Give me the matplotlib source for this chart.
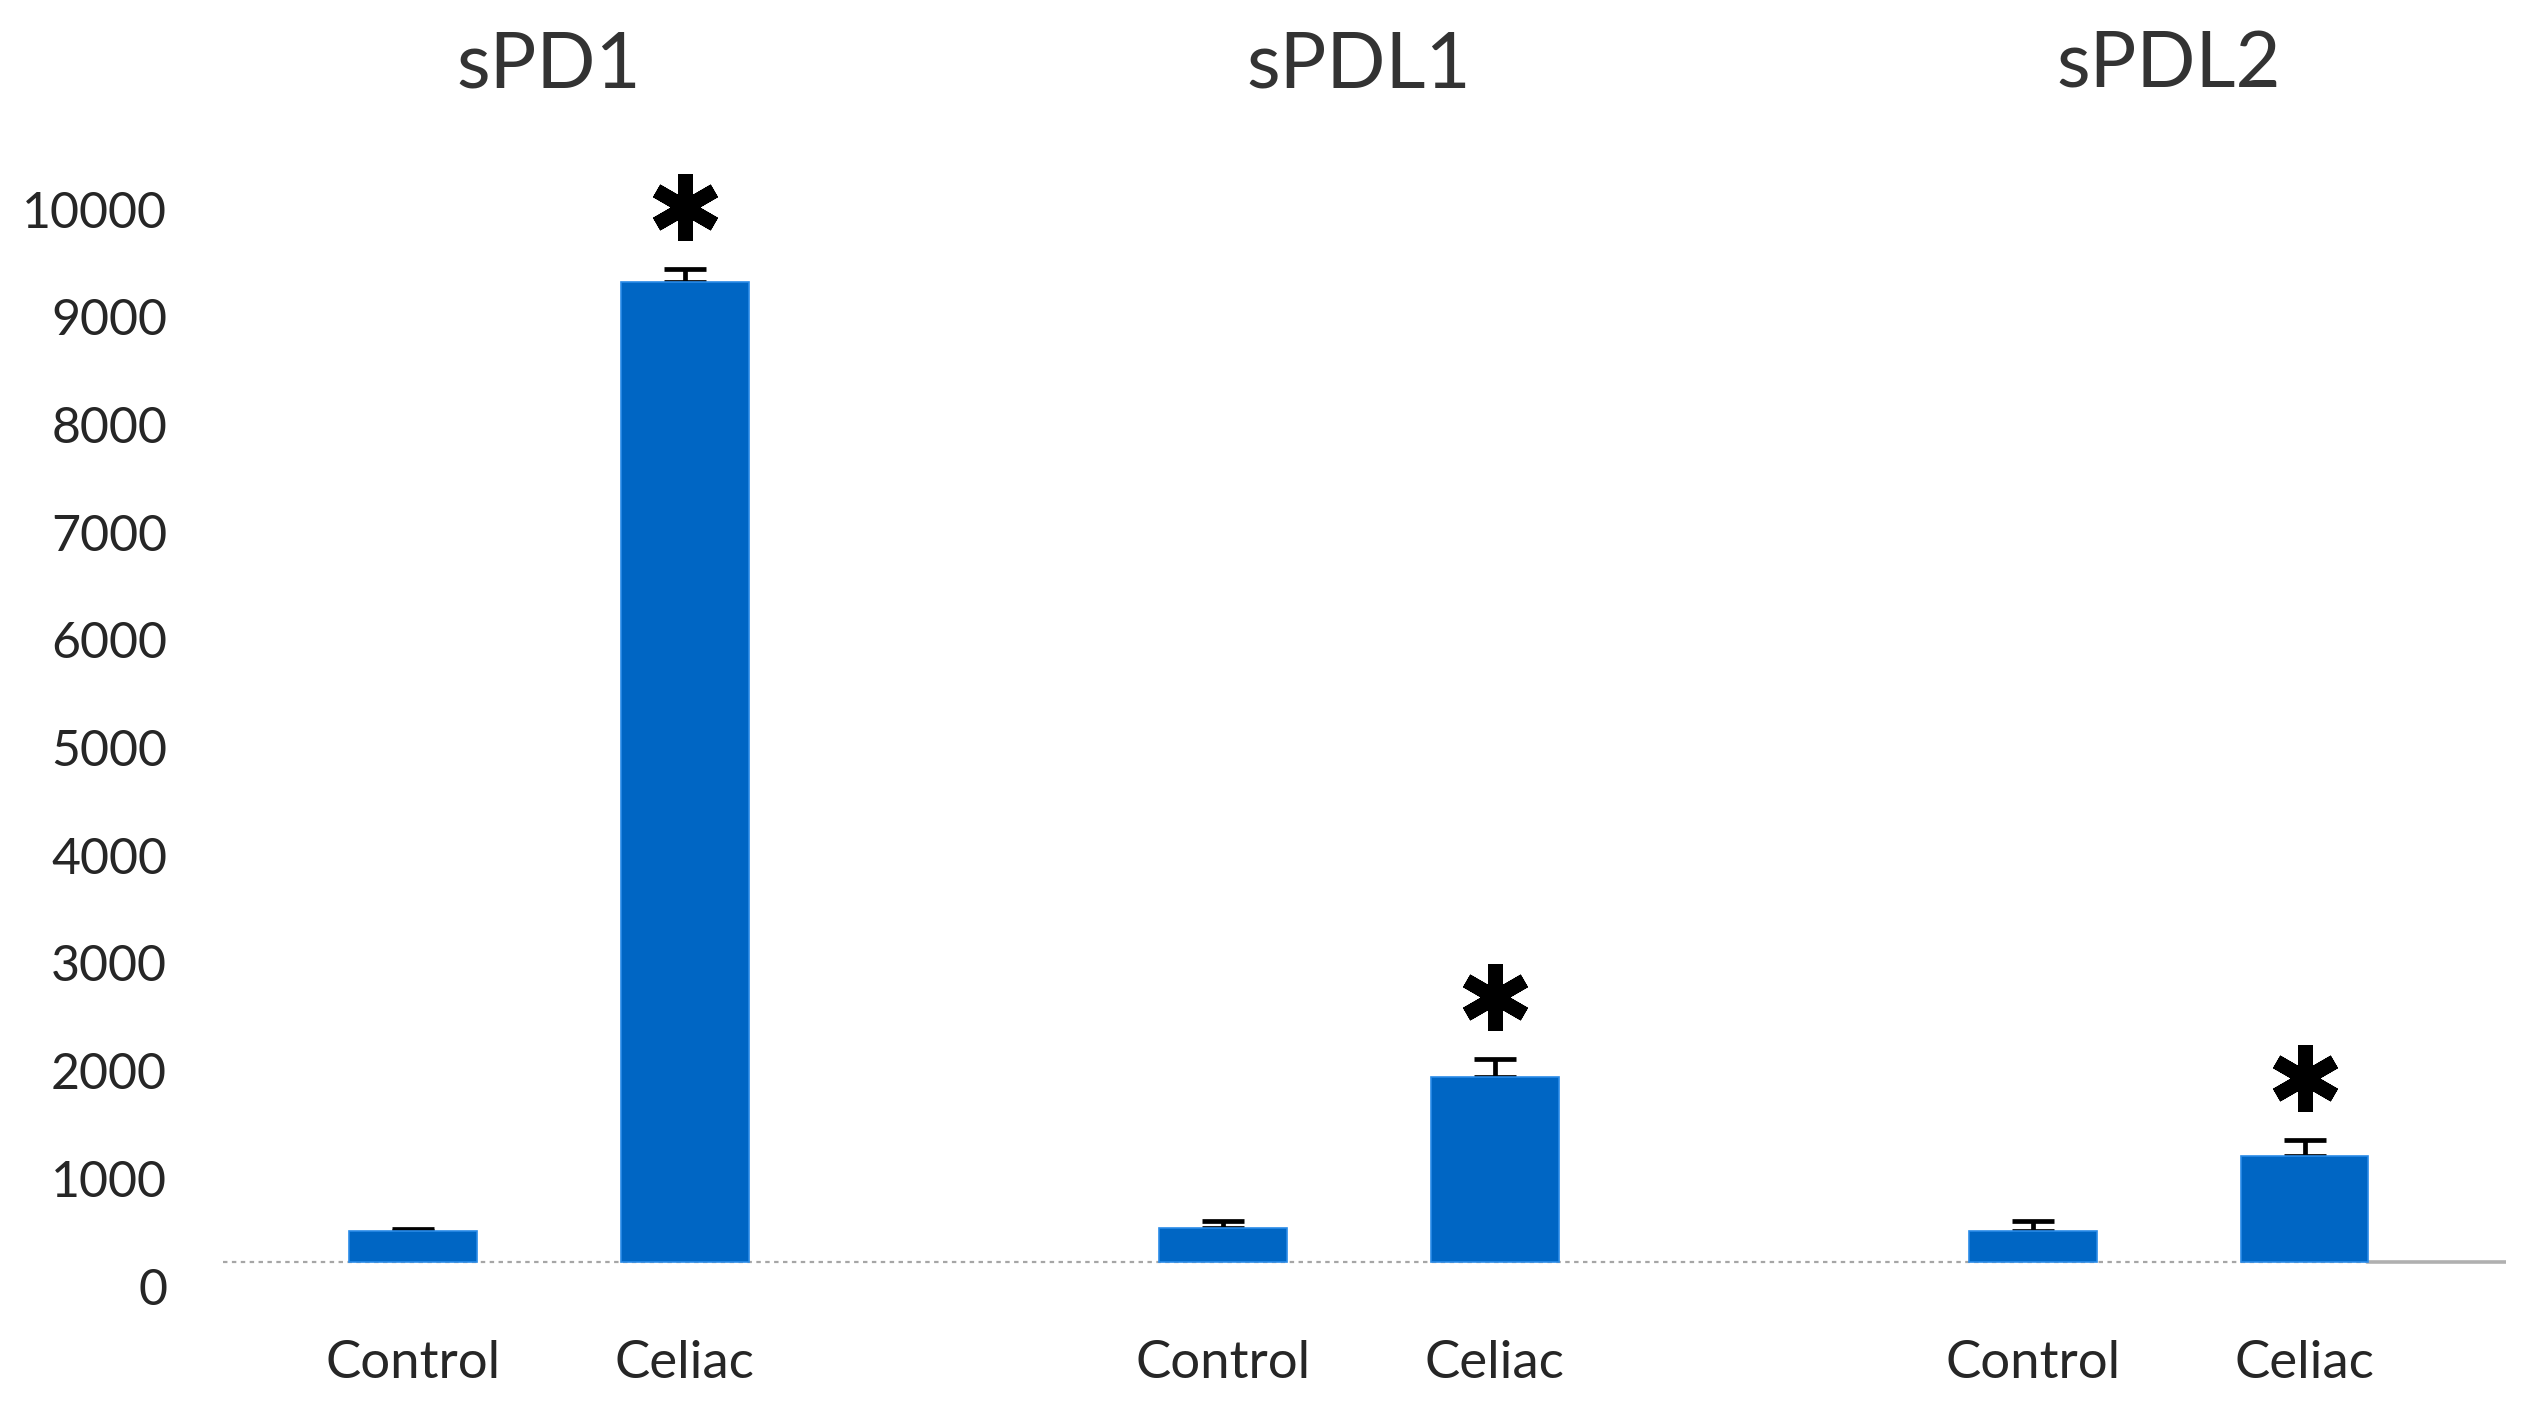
import numpy as np
import matplotlib
matplotlib.use("Agg")
import matplotlib.pyplot as plt

plt.rcParams['font.family'] = ['Lato', 'DejaVu Sans']

# data (bar tops)
markers = ['sPD1', 'sPDL1', 'sPDL2']
groups = ['Control', 'Celiac']
control = [510, 540, 510]
celiac = [9320, 1940, 1205]
control_err = [15, 60, 90]
celiac_err = [120, 165, 150]
significant = [True, True, True]   # asterisk over the Celiac bar
baseline = 226                      # the dotted axis line sits slightly above 0
yticks = list(range(0, 10001, 1000))

bar_color = '#0066c4'
edge_color = '#2a8be8'
bar_w = 0.47
gap = 2.98  # distance between groups in x units

fig = plt.figure(figsize=(25.3, 14.03), dpi=100)
ax = fig.add_axes([0.088, 0.0565, 0.9024, 0.8713])

x_ctrl = np.arange(len(markers)) * gap
x_cel = x_ctrl + 1

h_ctrl = np.array(control) - baseline
h_cel = np.array(celiac) - baseline

ax.bar(x_ctrl, h_ctrl, bar_w, bottom=baseline, color=bar_color,
       edgecolor=edge_color, linewidth=1.2, zorder=3)
ax.bar(x_cel, h_cel, bar_w, bottom=baseline, color=bar_color,
       edgecolor=edge_color, linewidth=1.2, zorder=3)

# upper-only error bars (lower cap hidden behind the bar)
ax.errorbar(x_ctrl, control, yerr=[np.zeros(3), control_err], fmt='none',
            ecolor='black', elinewidth=3.4, capsize=15, capthick=3.4, zorder=2.5)
ax.errorbar(x_cel, celiac, yerr=[np.zeros(3), celiac_err], fmt='none',
            ecolor='black', elinewidth=3.4, capsize=15, capthick=3.4, zorder=2.5)

# significance asterisks
for xc, top, e, sig in zip(x_cel, celiac, celiac_err, significant):
    if sig:
        ax.plot(xc, top + e + 580, marker=(6, 2, 0), ms=48, mew=10.5,
                color='black', zorder=5)

xmin, xmax = -0.70, 7.70
ax.set_xlim(xmin, xmax)
ax.set_ylim(-350, 11000)

# dotted baseline, solid grey after the last bar
ax.plot([xmin, x_cel[-1] + bar_w / 2], [baseline, baseline], color='#a6a6a6',
        lw=1.6, ls=(0, (2, 2)), zorder=2)
ax.plot([x_cel[-1] + bar_w / 2, xmax], [baseline, baseline], color='#b0b0b0',
        lw=2.6, zorder=2)

# group titles
for i, name in enumerate(markers):
    ax.text(x_ctrl[i] + 0.5, 11330, name, ha='center', va='center',
            fontsize=56, color='#333333')

ticks_x = np.ravel(np.column_stack([x_ctrl, x_cel]))
ax.set_xticks(ticks_x)
ax.set_xticklabels(groups * len(markers), fontsize=38, color='#262626')
ax.set_yticks(yticks)
ax.set_yticklabels([str(t) for t in yticks], fontsize=36, color='#262626')
ax.tick_params(axis='x', length=0, pad=12)
ax.tick_params(axis='y', length=0, pad=40)

for s in ax.spines.values():
    s.set_visible(False)

fig.savefig('out.png', dpi=100, facecolor='white')
